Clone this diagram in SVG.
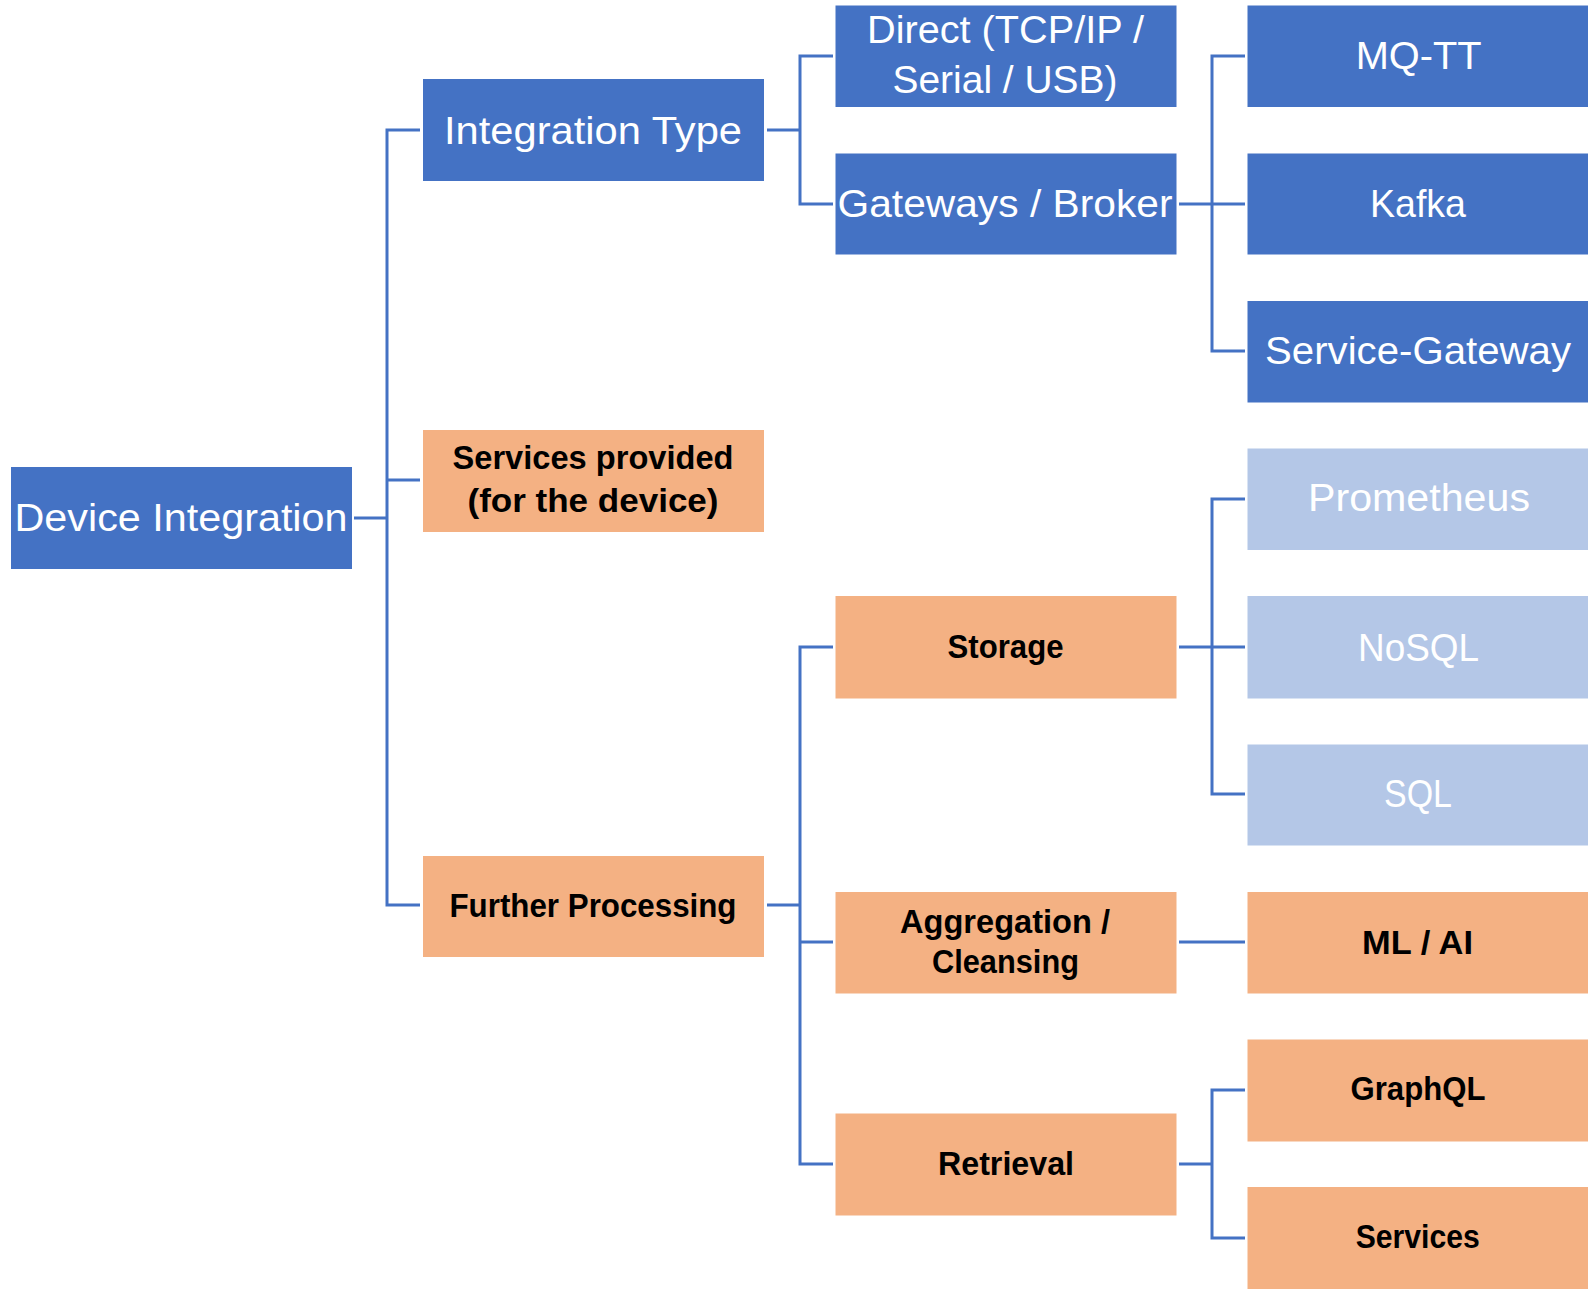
<svg xmlns="http://www.w3.org/2000/svg" width="1588" height="1289" viewBox="0 0 1588 1289">
<style>
.blue{fill:#4472C4}
.orange{fill:#F4B183}
.light{fill:#B4C7E7}
.tw{font-family:"Liberation Sans",Arial,sans-serif;font-size:39px;fill:#FFFFFF;text-anchor:middle}
.tb{font-family:"Liberation Sans",Arial,sans-serif;font-size:34px;font-weight:bold;fill:#000000;text-anchor:middle}
.conn{fill:none;stroke:#4472C4;stroke-width:3}
</style>
<rect width="1588" height="1289" fill="#FFFFFF"/>
<g id="connectors" class="conn">
<path d="M354,518 H387"/>
<path d="M420,130 H387 V905 H420"/>
<path d="M387,480 H420"/>
<path d="M767,130 H800"/>
<path d="M833,56 H800 V204 H833"/>
<path d="M1179,204 H1212"/>
<path d="M1245,56 H1212 V351 H1245"/>
<path d="M1212,204 H1245"/>
<path d="M767,905 H800"/>
<path d="M833,647 H800 V1164 H833"/>
<path d="M800,942 H833"/>
<path d="M1179,647 H1212"/>
<path d="M1245,499 H1212 V794 H1245"/>
<path d="M1212,647 H1245"/>
<path d="M1179,942 H1245"/>
<path d="M1179,1164 H1212"/>
<path d="M1245,1090 H1212 V1238 H1245"/>
</g>
<g id="device-integration"><rect class="blue" x="11" y="467" width="341" height="102"/><text class="tw" x="181" y="531" textLength="333" lengthAdjust="spacingAndGlyphs">Device Integration</text></g>
<g id="integration-type"><rect class="blue" x="423" y="79" width="341" height="102"/><text class="tw" x="593" y="143.5" textLength="298" lengthAdjust="spacingAndGlyphs">Integration Type</text></g>
<g id="services-provided"><rect class="orange" x="423" y="430" width="341" height="102"/><text class="tb" x="593" y="469" textLength="281" lengthAdjust="spacingAndGlyphs">Services provided</text><text class="tb" x="593" y="511.5" textLength="251" lengthAdjust="spacingAndGlyphs">(for the device)</text></g>
<g id="further-processing"><rect class="orange" x="423" y="856" width="341" height="101"/><text class="tb" x="593" y="917" textLength="287" lengthAdjust="spacingAndGlyphs">Further Processing</text></g>
<g id="direct"><rect class="blue" x="835.5" y="5.5" width="341" height="101.5"/><text class="tw" x="1005.5" y="43" textLength="277" lengthAdjust="spacingAndGlyphs">Direct (TCP/IP /</text><text class="tw" x="1005" y="93" textLength="225" lengthAdjust="spacingAndGlyphs">Serial / USB)</text></g>
<g id="gateways-broker"><rect class="blue" x="835.5" y="153.5" width="341" height="101"/><text class="tw" x="1005" y="217" textLength="335" lengthAdjust="spacingAndGlyphs">Gateways / Broker</text></g>
<g id="storage"><rect class="orange" x="835.5" y="596" width="341" height="102.5"/><text class="tb" x="1005.5" y="657.8" textLength="116" lengthAdjust="spacingAndGlyphs">Storage</text></g>
<g id="aggregation"><rect class="orange" x="835.5" y="892" width="341" height="101.5"/><text class="tb" x="1005" y="932.7" textLength="210" lengthAdjust="spacingAndGlyphs">Aggregation /</text><text class="tb" x="1005.5" y="973.4" textLength="147" lengthAdjust="spacingAndGlyphs">Cleansing</text></g>
<g id="retrieval"><rect class="orange" x="835.5" y="1113.5" width="341" height="102"/><text class="tb" x="1006" y="1174.6" textLength="136" lengthAdjust="spacingAndGlyphs">Retrieval</text></g>
<g id="mq-tt"><rect class="blue" x="1247.5" y="5.5" width="341" height="101.5"/><text class="tw" x="1418.7" y="69" textLength="126" lengthAdjust="spacingAndGlyphs">MQ-TT</text></g>
<g id="kafka"><rect class="blue" x="1247.5" y="153.5" width="341" height="101"/><text class="tw" x="1418" y="217" textLength="96" lengthAdjust="spacingAndGlyphs">Kafka</text></g>
<g id="service-gateway"><rect class="blue" x="1247.5" y="301" width="341" height="101.5"/><text class="tw" x="1418" y="364" textLength="306" lengthAdjust="spacingAndGlyphs">Service-Gateway</text></g>
<g id="prometheus"><rect class="light" x="1247.5" y="448.5" width="341" height="101.5"/><text class="tw" x="1419" y="511" textLength="222" lengthAdjust="spacingAndGlyphs">Prometheus</text></g>
<g id="nosql"><rect class="light" x="1247.5" y="596" width="341" height="102.5"/><text class="tw" x="1418.5" y="660.5" textLength="121" lengthAdjust="spacingAndGlyphs">NoSQL</text></g>
<g id="sql"><rect class="light" x="1247.5" y="744.5" width="341" height="101"/><text class="tw" x="1418" y="807.4" textLength="68" lengthAdjust="spacingAndGlyphs">SQL</text></g>
<g id="ml-ai"><rect class="orange" x="1247.5" y="892" width="341" height="101.5"/><text class="tb" x="1417.5" y="953.5" textLength="111" lengthAdjust="spacingAndGlyphs">ML / AI</text></g>
<g id="graphql"><rect class="orange" x="1247.5" y="1039.5" width="341" height="102"/><text class="tb" x="1418" y="1100" textLength="135" lengthAdjust="spacingAndGlyphs">GraphQL</text></g>
<g id="services"><rect class="orange" x="1247.5" y="1187" width="341" height="102"/><text class="tb" x="1417.7" y="1248.3" textLength="124" lengthAdjust="spacingAndGlyphs">Services</text></g>
</svg>
